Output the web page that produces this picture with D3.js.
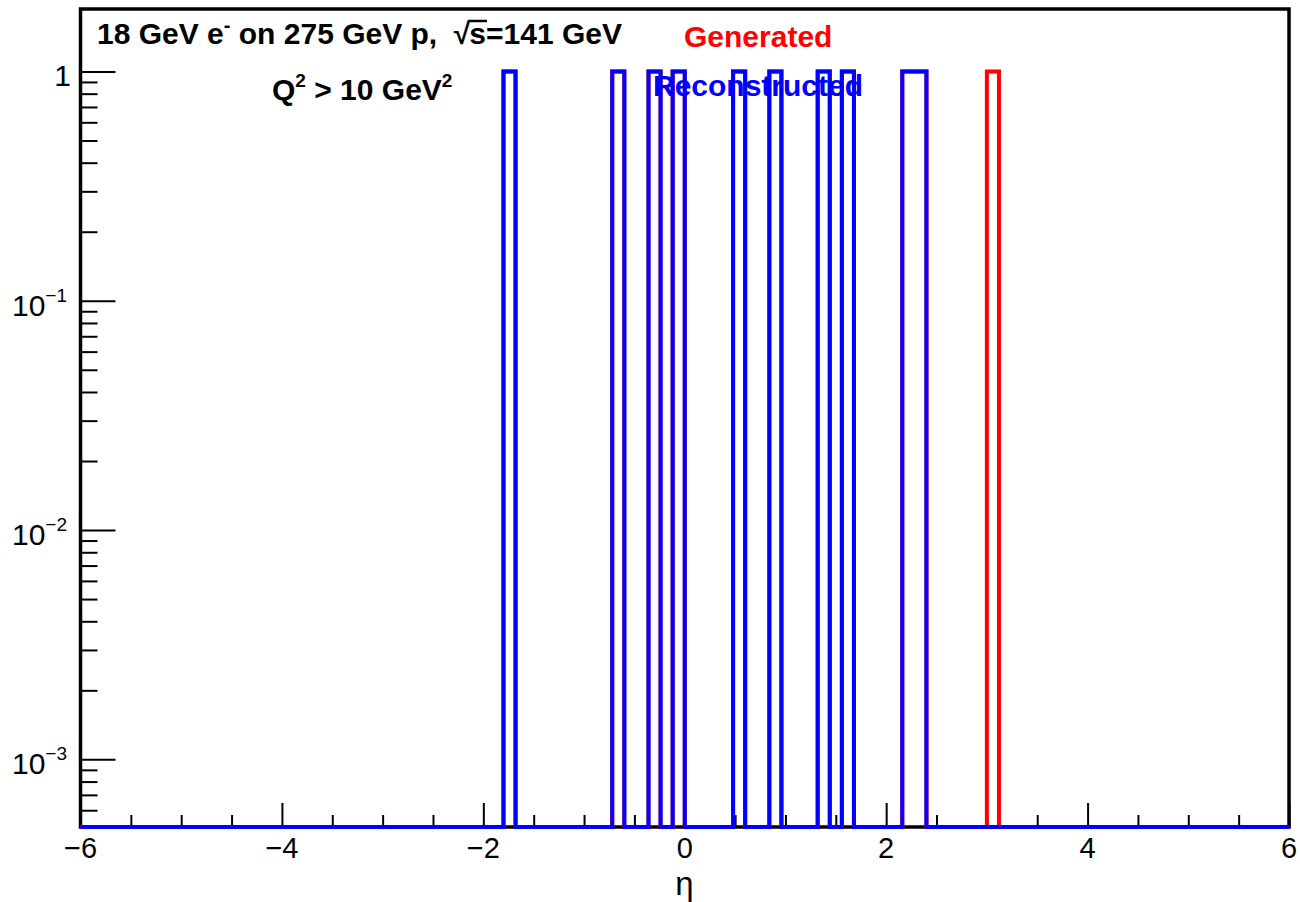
<!DOCTYPE html>
<html>
<head>
<meta charset="utf-8">
<script src="https://cdn.jsdelivr.net/npm/d3@7"></script>
<style>
  html, body { margin: 0; padding: 0; background: #fff; }
  svg { display: block; }
  text { font-family: "Liberation Sans", Arial, Helvetica, sans-serif; }
</style>
</head>
<body>
<svg id="chart" width="1300" height="902"></svg>
<script>
// ---------------- data ----------------
const etaRange = [-6, 6];
const nBins = 100;
const recoLowEdges = [-1.80, -0.72, -0.36, -0.12, 0.48, 0.84, 1.32, 1.56, 2.16, 2.28];
const recoCounts   = [1, 1, 1, 1, 1, 1, 1, 1, 1, 1];
const genLowEdges  = [-1.80, -0.72, -0.36, -0.12, 0.48, 0.84, 1.32, 1.56, 2.16, 2.28, 3.00];
const genCounts    = [1, 1, 1, 1, 1, 1, 1, 1, 1, 1, 1];
const yRange = [5.07e-4, 1.872];
const xMajorTicks = [-6, -4, -2, 0, 2, 4, 6];
const xTickLabels = ["\u22126", "\u22124", "\u22122", "0", "2", "4", "6"];
const yMajorTicks = [0.001, 0.01, 0.1, 1];
const yTickLabels = [["10", "\u22123"], ["10", "\u22122"], ["10", "\u22121"], ["1", null]];
const seriesNames = ["Generated", "Reconstructed"];
const seriesColors = ["#ff0000", "#0000ff"];

// ---------------- layout ----------------
const L = 80.5, R = 1289, T = 9, B = 827;
const svg = d3.select("#chart");
const x = d3.scaleLinear().domain(etaRange).range([L, R]);
const y = d3.scaleLog().domain(yRange).range([B, T]);
const binW = (etaRange[1] - etaRange[0]) / nBins;

function fill(lows, counts) {
  const arr = new Array(nBins).fill(0);
  lows.forEach((lo, k) => {
    const i = Math.round((lo - etaRange[0]) / binW);
    arr[i] = counts[k];
  });
  return arr;
}
const genHist = fill(genLowEdges, genCounts);
const recoHist = fill(recoLowEdges, recoCounts);

// frame
svg.append("rect").attr("x", L).attr("y", T).attr("width", R - L).attr("height", B - T)
  .attr("fill", "none").attr("stroke", "#000").attr("stroke-width", 3.5);

// ticks
const xMinor = d3.range(-6, 6.001, 0.5).filter(v => Math.abs(v / 2 - Math.round(v / 2)) > 1e-6);
const gx = svg.append("g").attr("transform", `translate(0,${B})`);
gx.call(d3.axisBottom(x).tickValues(xMajorTicks).tickSize(-24).tickSizeOuter(0).tickFormat(""));
const gx2 = svg.append("g").attr("transform", `translate(0,${B})`);
gx2.call(d3.axisBottom(x).tickValues(xMinor).tickSize(-12).tickSizeOuter(0).tickFormat(""));
const yMinor = y.ticks().filter(v => !yMajorTicks.some(m => Math.abs(m - v) / m < 1e-6));
const gy = svg.append("g").attr("transform", `translate(${L},0)`);
gy.call(d3.axisLeft(y).tickValues(yMajorTicks).tickSize(-35).tickSizeOuter(0).tickFormat(""));
const gy2 = svg.append("g").attr("transform", `translate(${L},0)`);
gy2.call(d3.axisLeft(y).tickValues(yMinor).tickSize(-17).tickSizeOuter(0).tickFormat(""));
svg.selectAll(".domain").remove();
svg.selectAll(".tick line").attr("stroke", "#000").attr("stroke-width", 2);

// histograms
function histPoints(h) {
  const pts = [[x(etaRange[0]), B]];
  h.forEach((v, i) => {
    const lo = etaRange[0] + i * binW, hi = lo + binW;
    const yy = v > 0 ? y(v) : B;
    pts.push([x(lo), yy], [x(hi), yy]);
  });
  pts.push([x(etaRange[1]), B]);
  return pts;
}
const line = d3.line();
[genHist, recoHist].forEach((h, k) => {
  svg.append("path").attr("d", line(histPoints(h)))
    .attr("fill", "none").attr("stroke", seriesColors[k]).attr("stroke-width", 4)
    .attr("stroke-linejoin", "miter");
});

// x labels
xMajorTicks.forEach((v, i) => {
  svg.append("text").attr("x", x(v)).attr("y", 858).attr("text-anchor", "middle")
    .attr("font-size", 29).text(xTickLabels[i]);
});
// y labels
yMajorTicks.forEach((v, i) => {
  const [base, exp] = yTickLabels[i];
  const ty = y(v);
  const g = svg.append("g");
  if (exp) {
    const e = g.append("text").attr("x", 67).attr("y", ty + 1).attr("text-anchor", "end")
      .attr("font-size", 19).text(exp);
    const w = e.node().getComputedTextLength();
    g.append("text").attr("x", 67 - w).attr("y", ty + 15).attr("text-anchor", "end")
      .attr("font-size", 30).text(base);
  } else {
    g.append("text").attr("x", 71).attr("y", ty + 15).attr("text-anchor", "end")
      .attr("font-size", 30).text(base);
  }
});
// axis title
svg.append("text").attr("x", 684.5).attr("y", 894.5).attr("text-anchor", "middle")
  .attr("font-family", "Liberation Serif, serif").attr("font-size", 33).text("\u03b7");

// rich text helper
function rich(x0, y0, segs, color) {
  let cx = x0;
  segs.forEach(s => {
    const t = svg.append("text").attr("x", cx).attr("y", y0 + (s.dy || 0))
      .attr("font-size", s.size || 30).attr("font-weight", "bold").attr("fill", color)
      .attr("xml:space", "preserve").style("white-space", "pre").text(s.t);
    const w = t.node().getComputedTextLength();
    if (s.over) {
      svg.append("line").attr("x1", cx - 1).attr("x2", cx + w + 1)
        .attr("y1", y0 - 23).attr("y2", y0 - 23).attr("stroke", color).attr("stroke-width", 2.5);
    }
    cx += w + (s.gap || 0);
  });
}
rich(97, 44, [
  {t: "18 GeV e"}, {t: "-", size: 20, dy: -12}, {t: " on 275 GeV p,  "},
  {t: "\u221a", gap: -1}, {t: "s", over: true}, {t: "=141 GeV"}
], "#000");
rich(272, 100, [
  {t: "Q"}, {t: "2", size: 19, dy: -13}, {t: " > 10 GeV"}, {t: "2", size: 19, dy: -13}
], "#000");
rich(684, 46.5, [{t: seriesNames[0]}], seriesColors[0]);
rich(653, 96, [{t: seriesNames[1]}], seriesColors[1]);
</script>
</body>
</html>
